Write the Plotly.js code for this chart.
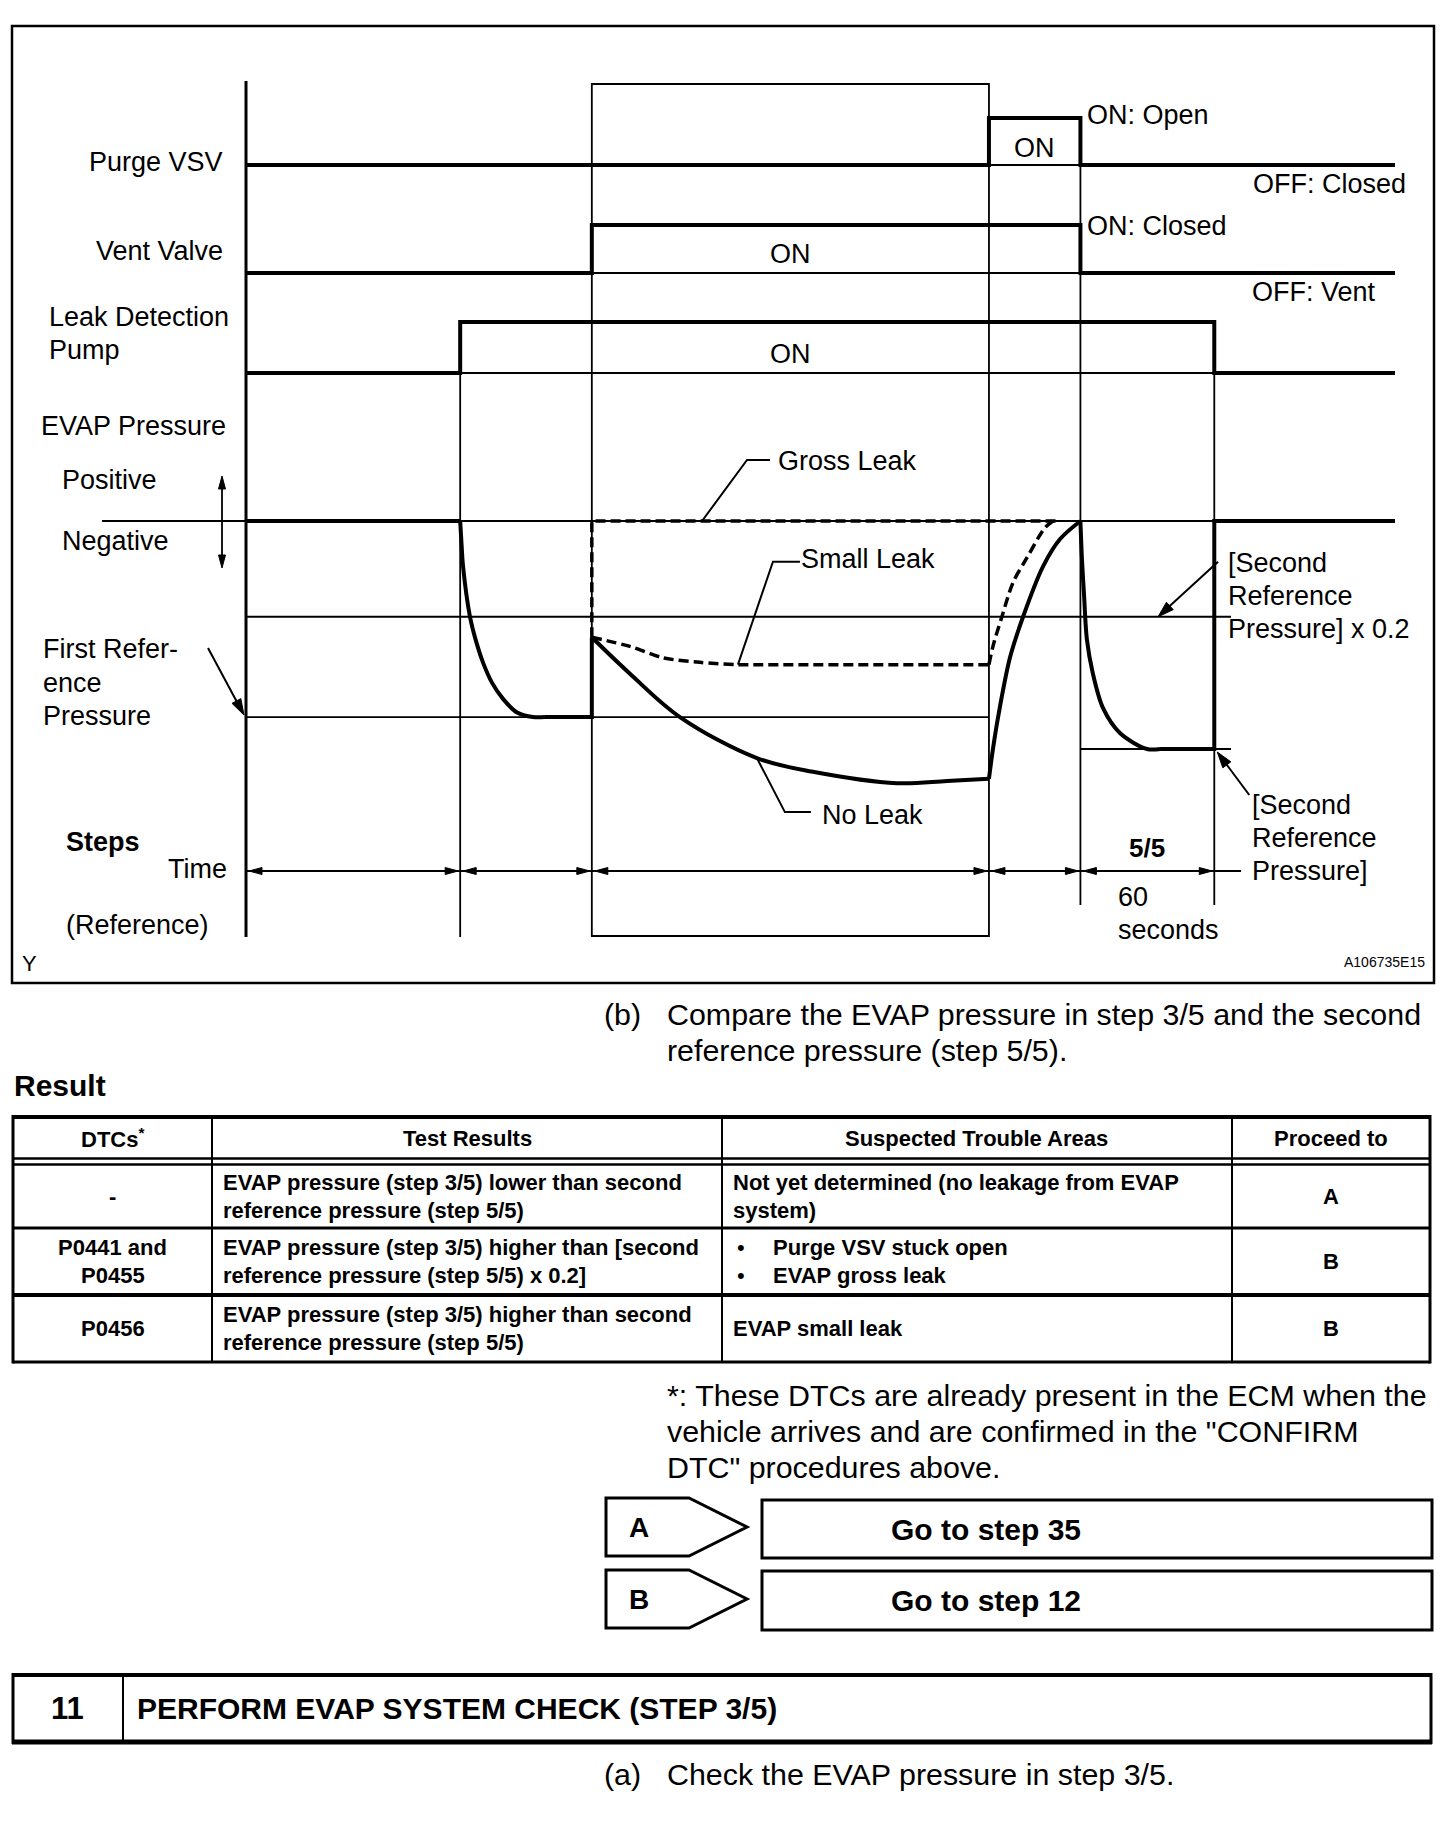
<!DOCTYPE html>
<html><head><meta charset="utf-8">
<script src="https://cdn.plot.ly/plotly-3.0.1.min.js"></script>
<style>html,body{margin:0;padding:0;background:#fff;}#chart{width:1456px;height:1846px;}</style>
</head><body><div id="chart"></div>
<script>
// ================= DATA =================
// time axis (seconds, schematic); step 5/5 lasts 60 s
const stepBounds = [0, 96, 155, 333, 374, 434];
const timeEnd = 515;
const timeAxisEnd = 446;

// digital signals (0 = OFF, 1 = ON)
const purgeTime = [0, 333, 374, 515]; const purgeState = [0, 1, 0, 0];
const ventTime  = [0, 155, 374, 515]; const ventState  = [0, 1, 0, 0];
const pumpTime  = [0, 96, 434, 515];  const pumpState  = [0, 1, 0, 0];

// EVAP pressure (relative units, second reference pressure = -1)
const pAtmos = 0, pSecondX02 = -0.42, pFirstRef = -0.86, pSecondRef = -1.0;
const baseTime = [0, 96];                 const basePress = [0, 0];
const step1Time  = [96, 96.6, 97.3, 100.4, 103.5, 106.2, 110.3, 115.2, 121.5, 128.6, 134];
const step1Press = [0, -0.10, -0.20, -0.42, -0.54, -0.62, -0.71, -0.78, -0.84, -0.86, -0.86];
const step2Time  = [134, 155, 155];        const step2Press = [-0.86, -0.86, -0.51];
const noLeakTime  = [155, 172.1, 194.5, 229.0, 254.1, 291.8, 314.2, 333];
const noLeakPress = [-0.51, -0.67, -0.86, -1.04, -1.10, -1.15, -1.14, -1.13];
const noLeakRiseTime  = [333, 334.8, 337.1, 342.4, 348.3, 357.2, 364.8, 374];
const noLeakRisePress = [-1.13, -1.00, -0.86, -0.60, -0.42, -0.20, -0.08, 0];
const smallLeakTime  = [155, 172.1, 186.9, 203.5, 220.5, 240, 333];
const smallLeakPress = [-0.51, -0.55, -0.60, -0.62, -0.63, -0.63, -0.63];
const smallLeakRiseTime  = [333, 334.8, 338.8, 343.8, 350.1, 358.1, 361.7];
const smallLeakRisePress = [-0.63, -0.55, -0.42, -0.27, -0.16, -0.03, 0];
const grossLeakTime  = [155, 155, 364];   const grossLeakPress = [-0.51, 0, 0];
const step5Time  = [374, 374.7, 375.6, 376.9, 379.6, 384.1, 391.7, 403.8, 409.7];
const step5Press = [0, -0.17, -0.32, -0.52, -0.67, -0.82, -0.93, -1.0, -1.0];
const endTime = [409.7, 434, 434, 515];   const endPress = [-1.0, -1.0, 0, 0];

// texts
const signalLabels = ['Purge VSV', 'Vent Valve', 'Leak Detection', 'Pump'];
const pressureLabels = ['EVAP Pressure', 'Positive', 'Negative'];
const firstRefLabel = ['First Refer-', 'ence', 'Pressure'];
const secondRefX02Label = ['[Second', 'Reference', 'Pressure] x 0.2'];
const secondRefLabel = ['[Second', 'Reference', 'Pressure]'];
const curveLabels = ['Gross Leak', 'Small Leak', 'No Leak'];
const stateLabels = ['ON: Open', 'OFF: Closed', 'ON: Closed', 'OFF: Vent', 'ON'];
const stepLabels = ['Steps', 'Time', '(Reference)', '5/5', '60', 'seconds'];

const tableHeader = ['DTCs<sup>*</sup>', 'Test Results', 'Suspected Trouble Areas', 'Proceed to'];
const dtcCodes = [['-'], ['P0441 and', 'P0455'], ['P0456']];
const testResults = [
  ['EVAP pressure (step 3/5) lower than second', 'reference pressure (step 5/5)'],
  ['EVAP pressure (step 3/5) higher than [second', 'reference pressure (step 5/5) x 0.2]'],
  ['EVAP pressure (step 3/5) higher than second', 'reference pressure (step 5/5)']];
const troubleAreas = [
  ['Not yet determined (no leakage from EVAP', 'system)'],
  ['Purge VSV stuck open', 'EVAP gross leak'],
  ['EVAP small leak']];
const troubleBullets = [false, true, false];
const proceedTo = ['A', 'B', 'B'];
const compareText = ['(b)', 'Compare the EVAP pressure in step 3/5 and the second', 'reference pressure (step 5/5).'];
const footnote = ['*: These DTCs are already present in the ECM when the', 'vehicle arrives and are confirmed in the "CONFIRM', 'DTC" procedures above.'];
const goTo = [['A', 'Go to step 35'], ['B', 'Go to step 12']];
const stepTitle = ['11', 'PERFORM EVAP SYSTEM CHECK (STEP 3/5)'];
const checkText = ['(a)', 'Check the EVAP pressure in step 3/5.'];

// ================= LAYOUT HELPERS =================
const W = 1456, H = 1846;
const FONT = 'Liberation Sans, Arial, Helvetica, sans-serif';
const K = '#000';
const shapes = [], annotations = [];
const fx = x => x / W, fy = y => 1 - y / H;

function label(text, x, y, o = {}) {
  const a = {text, showarrow: false, xref: 'paper', yref: 'paper', x: fx(x), y: fy(y),
    xanchor: o.anchor || 'left', yanchor: 'middle', borderpad: 0,
    font: {family: FONT, size: o.size || 27, color: K}};
  if (o.xData !== undefined) { a.xref = 'x'; a.x = o.xData; a.xshift = x; }
  annotations.push(a);
}
function pline(x0, y0, x1, y1, w) {
  shapes.push({type: 'line', xref: 'paper', yref: 'paper', x0: fx(x0), y0: fy(y0), x1: fx(x1), y1: fy(y1),
    line: {color: K, width: w}});
}
function ppath(pts, w, close, fill) {
  const d = 'M' + pts.map(p => fx(p[0]).toFixed(5) + ',' + fy(p[1]).toFixed(5)).join('L') + (close ? 'Z' : '');
  shapes.push({type: 'path', xref: 'paper', yref: 'paper', path: d, line: {color: K, width: w},
    fillcolor: fill || 'rgba(0,0,0,0)'});
}
// pixel-sized shapes anchored on a data/paper point (offsets in screen px, y down)
function pixPath(xref, yref, xa, ya, pts, w, close, fill) {
  const d = 'M' + pts.map(p => p[0].toFixed(2) + ',' + (-p[1]).toFixed(2)).join('L') + (close ? 'Z' : '');
  shapes.push({type: 'path', xref, yref, xsizemode: 'pixel', ysizemode: 'pixel', xanchor: xa, yanchor: ya,
    path: d, line: {color: K, width: w}, fillcolor: fill || 'rgba(0,0,0,0)'});
}
function arrow(xref, yref, xa, ya, tail, tip, L, hw, w) {
  const dx = tip[0] - tail[0], dy = tip[1] - tail[1], n = Math.hypot(dx, dy);
  const ux = dx / n, uy = dy / n;
  const bx = tip[0] - L * ux, by = tip[1] - L * uy;
  pixPath(xref, yref, xa, ya, [tail, [bx + ux * 2, by + uy * 2]], w, false);
  pixPath(xref, yref, xa, ya, [tip, [bx - uy * hw, by + ux * hw], [bx + uy * hw, by - ux * hw]], 1, true, K);
}
function axisFromPx(valTop, pxTop, valBot, pxBot, rTop, rBot) {
  const s = (pxBot - pxTop) / (valTop - valBot);
  const pTopPx = pxTop - (rTop - valTop) * s, pBotPx = pxBot + (valBot - rBot) * s;
  return {domain: [fy(pBotPx), fy(pTopPx)], range: [rBot, rTop], visible: false, anchor: 'x', fixedrange: true};
}

// ================= TRACES =================
function tr(x, y, yaxis, o = {}) {
  return {type: 'scatter', mode: 'lines', x, y, xaxis: 'x', yaxis, hoverinfo: 'skip', showlegend: false,
    line: {color: K, width: o.w || 4, shape: o.shape || 'linear', smoothing: o.sm || 1, dash: o.dash || 'solid'}};
}
const DASH = '10px,5px';
const data = [
  tr(purgeTime, purgeState, 'y2', {shape: 'hv'}),
  tr(ventTime, ventState, 'y3', {shape: 'hv'}),
  tr(pumpTime, pumpState, 'y4', {shape: 'hv'}),
  tr(baseTime, basePress, 'y'),
  tr(step1Time, step1Press, 'y', {shape: 'spline', sm: 0.9}),
  tr(step2Time, step2Press, 'y'),
  tr(noLeakTime, noLeakPress, 'y', {shape: 'spline', sm: 1}),
  tr(noLeakRiseTime, noLeakRisePress, 'y', {shape: 'spline', sm: 0.9}),
  tr(smallLeakTime, smallLeakPress, 'y', {shape: 'spline', sm: 0.8, dash: DASH, w: 3.5}),
  tr(smallLeakRiseTime, smallLeakRisePress, 'y', {shape: 'spline', sm: 0.9, dash: DASH, w: 3.5}),
  tr(grossLeakTime, grossLeakPress, 'y', {dash: DASH, w: 3.5}),
  tr(step5Time, step5Press, 'y', {shape: 'spline', sm: 0.9}),
  tr(endTime, endPress, 'y')
];

// ================= DIAGRAM DECORATION =================
const TL = stepBounds;
// outer frame & left axis
shapes.push({type: 'rect', xref: 'paper', yref: 'paper', x0: fx(12), y0: fy(983), x1: fx(1434), y1: fy(26), line: {color: K, width: 2.5}});
pline(246, 81, 246, 937, 3);
// step 3/5 frame
shapes.push({type: 'rect', xref: 'x', yref: 'paper', x0: TL[2], x1: TL[3], y0: fy(936), y1: fy(84), line: {color: K, width: 1.8}});
// boundary lines
[[TL[1], 322, 937], [TL[4], 118, 905], [TL[5], 322, 905]].forEach(b =>
  shapes.push({type: 'line', xref: 'x', yref: 'paper', x0: b[0], x1: b[0], y0: fy(b[1]), y1: fy(b[2]), line: {color: K, width: 1.8}}));
// OFF-level thin lines under ON periods
[['y2', purgeTime[1], purgeTime[2]], ['y3', ventTime[1], ventTime[2]], ['y4', pumpTime[1], pumpTime[2]]].forEach(s =>
  shapes.push({type: 'line', xref: 'x', yref: s[0], x0: s[1], x1: s[2], y0: 0, y1: 0, line: {color: K, width: 1.8}}));
// pressure reference lines
shapes.push({type: 'line', xref: 'paper', yref: 'y', x0: fx(102), x1: fx(1395), y0: pAtmos, y1: pAtmos, line: {color: K, width: 1.8}});
shapes.push({type: 'line', xref: 'x', yref: 'y', x0: 0, x1: 441.5, y0: pSecondX02, y1: pSecondX02, line: {color: K, width: 1.8}});
shapes.push({type: 'line', xref: 'x', yref: 'y', x0: 0, x1: TL[3], y0: pFirstRef, y1: pFirstRef, line: {color: K, width: 1.8}});
shapes.push({type: 'line', xref: 'x', yref: 'y', x0: TL[4], x1: 441.5, y0: pSecondRef, y1: pSecondRef, line: {color: K, width: 1.8}});

// time arrows
const yT = fy(871);
for (let i = 0; i < TL.length - 1; i++) {
  shapes.push({type: 'line', xref: 'x', yref: 'paper', x0: TL[i], x1: TL[i + 1], y0: yT, y1: yT, line: {color: K, width: 2}});
  pixPath('x', 'paper', TL[i], yT, [[3, 0], [16, -3.5], [16, 3.5]], 1, true, K);
  pixPath('x', 'paper', TL[i + 1], yT, [[-2, 0], [-15, -3.5], [-15, 3.5]], 1, true, K);
}
shapes.push({type: 'line', xref: 'x', yref: 'paper', x0: TL[5], x1: timeAxisEnd, y0: yT, y1: yT, line: {color: K, width: 2}});

// positive / negative double arrow
pline(222, 480, 222, 564, 1.8);
pixPath('paper', 'paper', fx(222), fy(476), [[0, 0], [-3.5, 13], [3.5, 13]], 1, true, K);
pixPath('paper', 'paper', fx(222), fy(568), [[0, 0], [-3.5, -13], [3.5, -13]], 1, true, K);
// first reference pressure arrow (tip on axis at first reference level)
arrow('paper', 'y', fx(246), pFirstRef, [-38, -69], [-2, -2], 16, 5, 2);
// second ref x0.2 arrow
arrow('x', 'y', 408.8, pSecondX02, [60, -55], [0, 0], 16, 5, 2);
// second ref arrow
arrow('x', 'y', TL[5], pSecondRef, [35, 46], [3, 3], 16, 5, 2);
// curve leader lines
pixPath('x', 'y', 204.4, pAtmos, [[0, 0], [45, -61], [68, -61]], 2, false);
pixPath('x', 'y', 220.5, smallLeakPress[4], [[0, 0], [35, -103], [62, -103]], 2, false);
pixPath('x', 'y', 229.0, noLeakPress[3], [[0, 0], [28, 54], [54, 54]], 2, false);

// ---- diagram labels ----
label(signalLabels[0], 224, 162, {anchor: 'right'});
label(signalLabels[1], 224, 251, {anchor: 'right'});
label(signalLabels[2], 48, 317);
label(signalLabels[3], 48, 350);
label(pressureLabels[0], 40, 426);
label(pressureLabels[1], 61, 480);
label(pressureLabels[2], 61, 541);
label(firstRefLabel[0], 42, 649);
label(firstRefLabel[1], 42, 683);
label(firstRefLabel[2], 42, 716);
label('<b>' + stepLabels[0] + '</b>', 65, 842);
label(stepLabels[1], 228, 869, {anchor: 'right'});
label(stepLabels[2], 65, 925);
label('Y', 21, 963, {size: 22});
label('<b>' + stepLabels[3] + '</b>', 0, 848, {anchor: 'center', size: 26, xData: (TL[4] + TL[5]) / 2});
label(stepLabels[4], 1117, 897);
label(stepLabels[5], 1117, 930);
label('A106735E15', 1426, 962, {anchor: 'right', size: 14});
label(stateLabels[0], 6, 115, {xData: TL[4]});
label(stateLabels[1], 1407, 184, {anchor: 'right'});
label(stateLabels[2], 6, 226, {xData: TL[4]});
label(stateLabels[3], 1251, 292);
label(stateLabels[4], 0, 148, {anchor: 'center', xData: (TL[3] + TL[4]) / 2});
label(stateLabels[4], 0, 254, {anchor: 'center', xData: (TL[2] + TL[3]) / 2});
label(stateLabels[4], 0, 354, {anchor: 'center', xData: (TL[2] + TL[3]) / 2});
label(curveLabels[0], 777, 461);
label(curveLabels[1], 800, 559);
label(curveLabels[2], 821, 815);
secondRefX02Label.forEach((t, i) => label(t, 1227, 563 + i * 33));
secondRefLabel.forEach((t, i) => label(t, 1251, 805 + i * 33));

// ================= TEXT & TABLE BELOW =================
const BS = 30.4;
label(compareText[0], 603, 1014, {size: BS});
label(compareText[1], 666, 1014, {size: BS});
label(compareText[2], 666, 1050, {size: BS});
label('<b>Result</b>', 13, 1085, {size: 30});

const colX = [13, 212, 722, 1232, 1430];
const rowTop = [1165, 1228, 1295], rowBot = [1228, 1295, 1362];
pline(13, 1117, 1430, 1117, 4);
pline(13, 1158.5, 1430, 1158.5, 2.5);
pline(13, 1164.5, 1430, 1164.5, 2.5);
pline(13, 1228, 1430, 1228, 3);
pline(13, 1295, 1430, 1295, 4);
pline(13, 1362, 1430, 1362, 3);
pline(13, 1115, 13, 1363.5, 3);
pline(1430, 1115, 1430, 1363.5, 3);
[212, 722, 1232].forEach(x => pline(x, 1117, x, 1362, 2));
const TS = 22;
const colMid = i => (colX[i] + colX[i + 1]) / 2;
tableHeader.forEach((t, i) => label('<b>' + t + '</b>', colMid(i), 1138, {anchor: 'center', size: TS}));
function cellLines(lines, x, r, anchor, prefix) {
  const c = (rowTop[r] + rowBot[r]) / 2;
  lines.forEach((t, k) => {
    const y = lines.length === 1 ? c : c + (k === 0 ? -14 : 14);
    label('<b>' + t + '</b>', x, y, {anchor, size: TS});
    if (prefix) label('\u2022', 736, y, {size: TS});
  });
}
for (let r = 0; r < 3; r++) {
  cellLines(dtcCodes[r], colMid(0), r, 'center');
  cellLines(testResults[r], 222, r, 'left');
  cellLines(troubleAreas[r], troubleBullets[r] ? 772 : 732, r, 'left', troubleBullets[r]);
  cellLines([proceedTo[r]], colMid(3), r, 'center');
}
footnote.forEach((t, i) => label(t, 666, 1395 + i * 36, {size: BS}));

// go-to boxes
[[1498, 1556, 1500, 1558], [1570, 1628, 1571, 1630]].forEach((b, i) => {
  const m = (b[0] + b[1]) / 2;
  ppath([[606, b[0]], [689, b[0]], [747, m], [689, b[1]], [606, b[1]]], 3, true);
  shapes.push({type: 'rect', xref: 'paper', yref: 'paper', x0: fx(762), x1: fx(1432), y0: fy(b[3]), y1: fy(b[2]), line: {color: K, width: 3}});
  label('<b>' + goTo[i][0] + '</b>', 628, m, {size: 28});
  label('<b>' + goTo[i][1] + '</b>', 890, (b[2] + b[3]) / 2, {size: 30});
});

// step 11 title box
pline(12, 1675, 1432, 1675, 4);
pline(12, 1742, 1432, 1742, 5);
pline(13, 1673, 13, 1744, 3);
pline(1431, 1673, 1431, 1744, 3);
pline(123, 1675, 123, 1742, 2);
label('<b>' + stepTitle[0] + '</b>', 67, 1708, {anchor: 'center', size: 31});
label('<b>' + stepTitle[1] + '</b>', 136, 1708, {size: 30});
label(checkText[0], 603, 1774, {size: BS});
label(checkText[1], 666, 1774, {size: BS});

// ================= AXES =================
const layout = {
  width: W, height: H, autosize: false,
  margin: {l: 0, r: 0, t: 0, b: 0, pad: 0},
  paper_bgcolor: '#fff', plot_bgcolor: 'rgba(0,0,0,0)',
  showlegend: false, hovermode: false,
  xaxis: {domain: [fx(246), fx(1395)], range: [0, timeEnd], visible: false, fixedrange: true},
  yaxis: axisFromPx(0, 521, -1, 749, 0.6, -2.0),
  yaxis2: axisFromPx(1, 118, 0, 165, 1.6, -0.6),
  yaxis3: axisFromPx(1, 225, 0, 273, 1.6, -0.6),
  yaxis4: axisFromPx(1, 322, 0, 373, 1.6, -0.6),
  shapes, annotations
};
Plotly.newPlot('chart', data, layout, {staticPlot: true, displayModeBar: false});
</script></body></html>
